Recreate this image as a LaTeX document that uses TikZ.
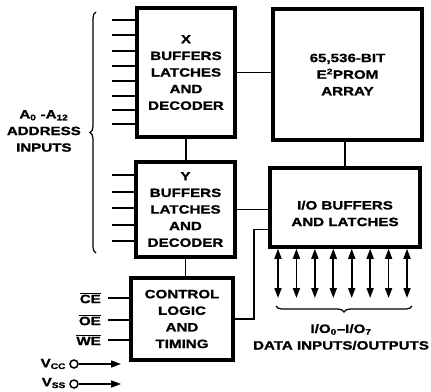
\documentclass[tikz,border=0pt]{standalone}
\usepackage{fontspec}
\setmainfont{Liberation Sans}[FakeStretch=1.26, BoldFeatures={FakeBold=1.2}]
\usetikzlibrary{arrows.meta,decorations.pathreplacing}

\tikzset{
  blk/.style={draw, line width=3.5pt, align=center, inner sep=0pt},
  txt/.style={align=center, inner sep=0pt},
  wire/.style={line width=1.5pt},
  bidir/.style={line width=1.7pt, {Triangle[width=7pt,length=10pt]}-{Triangle[width=7pt,length=10pt]}},
  pwr/.style={line width=1.5pt, -{Triangle[width=7pt,length=10pt]}},
  brc/.style={line width=1.2pt, decorate, decoration={brace, amplitude=6pt}}
}

\begin{document}
\begin{tikzpicture}[x=1pt, y=-1pt, font=\fontsize{12}{16.6}\selectfont\bfseries]
  \useasboundingbox (0,0) rectangle (431,391);

  % blocks
  \node[blk, minimum width=98pt, minimum height=129pt] (xdec) at (186,72.5)
    {X\\BUFFERS\\LATCHES\\AND\\DECODER};
  \node[blk, minimum width=149pt, minimum height=131pt] (arr) at (347.5,74.5)
    {65,536-BIT\\E\textsuperscript{2}PROM\\ARRAY};
  \node[blk, minimum width=99pt, minimum height=95pt] (ydec) at (185.5,209.5)
    {Y\\BUFFERS\\LATCHES\\AND\\DECODER};
  \node[blk, minimum width=102pt, minimum height=82pt] (ctl) at (182,319)
    {CONTROL\\LOGIC\\AND\\TIMING};
  \node[blk, minimum width=150pt, minimum height=79pt] (io) at (345,207.5) {};
  \node[txt] (iotxt) at (345,213.5) {I/O BUFFERS\\AND LATCHES};

  % links between blocks
  \begin{scope}[wire]
    \draw (xdec.east) -- (xdec.east -| arr.west);
    \draw (xdec.south) -- (xdec.south |- ydec.north);
    \draw (ydec.south) -- (ydec.south |- ctl.north);
    \draw (io.north) -- (io.north |- arr.south);
    \draw (ydec.east) -- (ydec.east -| io.west);
    \draw (ctl.east) -- ++(19,0) |- ([yshift=-22pt]io.west);
  \end{scope}

  % address inputs
  \foreach \y [count=\i] in {20,35,51,66,81,96,110,124} {
    \coordinate (xa\i) at (112,\y);
    \draw[wire] (xa\i) -- (xa\i -| xdec.west);
  }
  \foreach \y [count=\i] in {175,192,208,225,241} {
    \coordinate (ya\i) at (112,\y);
    \draw[wire] (ya\i) -- (ya\i -| ydec.west);
  }
  \coordinate (abot) at (96,253);
  \coordinate (atop) at (96,12);
  \draw[brc] (abot) -- (atop);
  \node[txt, anchor=east] (alab) at (81,131)
    {A\textsubscript{0} -A\textsubscript{12}\\ADDRESS\\INPUTS};

  % control inputs
  \foreach \y/\s [count=\i] in {298/CE,320/OE,340/WE} {
    \coordinate (c\i) at (108,\y);
    \draw[wire] (c\i) -- (c\i -| ctl.west);
    \node[txt, anchor=east] (cl\i) at (101,\y) {$\overline{\hbox{\bfseries\s}}$};
  }

  % data lines
  \foreach \i in {0,...,7} {
    \coordinate (d\i) at (278+18.43*\i,298);
    \draw[bidir] (io.south -| d\i) -- (d\i);
  }
  \coordinate (dr) at (412,306);
  \coordinate (dl) at (276,306);
  \draw[brc] (dr) -- (dl);
  \node[txt] (dlab) at (341,337)
    {I/O\textsubscript{0}--I/O\textsubscript{7}\\DATA INPUTS/OUTPUTS};

  % power
  \node[draw, circle, line width=1.5pt, minimum size=8pt, inner sep=0pt] (vcc) at (74,364) {};
  \node[draw, circle, line width=1.5pt, minimum size=8pt, inner sep=0pt] (vss) at (74,384) {};
  \coordinate (vccend) at (121,364);
  \coordinate (vssend) at (121,384);
  \draw[pwr] (vcc) -- (vccend);
  \draw[pwr] (vss) -- (vssend);
  \node[txt, anchor=east] (vccl) at (66,364) {V\textsubscript{CC}};
  \node[txt, anchor=east] (vssl) at (66,383) {V\textsubscript{SS}};
\end{tikzpicture}
\end{document}
